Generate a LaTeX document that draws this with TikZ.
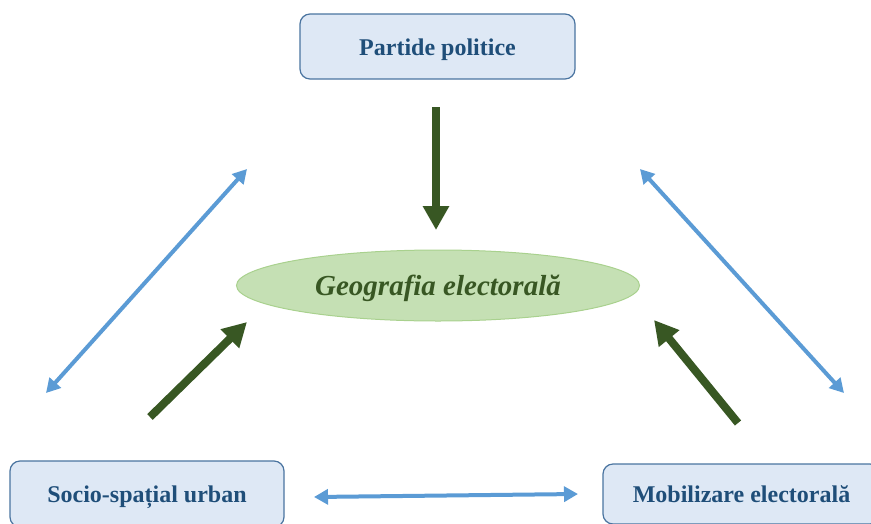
\documentclass[tikz,border=0pt]{standalone}
\usepackage{fontspec}
\setmainfont{Liberation Serif}
\usetikzlibrary{arrows.meta,shapes.geometric}
\definecolor{boxfill}{HTML}{DEE8F5}
\definecolor{boxline}{HTML}{4A74A0}
\definecolor{boxtext}{HTML}{1F4E79}
\definecolor{ellfill}{HTML}{C5E0B4}
\definecolor{ellline}{HTML}{A9D18E}
\definecolor{dgreen}{HTML}{385723}
\definecolor{lblue}{HTML}{5B9BD5}
\tikzset{
  box/.style={draw=boxline, line width=1.2pt, fill=boxfill, rounded corners=10pt,
    text=boxtext, font=\fontsize{24}{28}\selectfont\bfseries, inner sep=0pt,
    text height=20pt, text depth=3pt},
  ell/.style={ellipse, draw=ellline, line width=1pt, fill=ellfill, inner sep=0pt,
    text=dgreen, font=\fontsize{29}{34}\selectfont\bfseries\itshape,
    text height=22pt, text depth=3pt},
  garrow/.style={draw=dgreen, line width=8pt, -{Triangle[width=25pt,length=24pt]}},
  barrow/.style={draw=lblue, line width=4pt, {Triangle[width=15pt,length=14pt]}-{Triangle[width=15pt,length=14pt]}}
}
\begin{document}
\begin{tikzpicture}[x=1pt,y=-1pt]
\useasboundingbox (0,0) rectangle (871,523);
\clip (0,0) rectangle (871,523);
\node[box, minimum width=275pt, minimum height=65pt] (pp) at (437.5,46.5) {Partide politice};
\node[ell, minimum width=403pt, minimum height=71pt] (ge) at (438,285.5) {Geografia electorală};
\node[box, minimum width=274pt, minimum height=66pt] (su) at (147,494) {Socio-spațial urban};
\node[box, minimum width=277pt, minimum height=60pt] (me) at (741.5,494) {Mobilizare electorală};
% arrow endpoints
\coordinate (g1s) at (436,107);
\coordinate (g1e) at (436,230);
\coordinate (g2s) at (150,417);
\coordinate (g2e) at (247,322);
\coordinate (g3s) at (738,423);
\coordinate (g3e) at (654,320);
\coordinate (b1s) at (46,393);
\coordinate (b1e) at (247,169);
\coordinate (b2s) at (640,169);
\coordinate (b2e) at (844,393);
\coordinate (b3s) at (314,497);
\coordinate (b3e) at (578,494);
\draw[garrow] (g1s) -- (g1e);
\draw[garrow] (g2s) -- (g2e);
\draw[garrow] (g3s) -- (g3e);
\draw[barrow] (b1s) -- (b1e);
\draw[barrow] (b2s) -- (b2e);
\draw[barrow] (b3s) -- (b3e);
\end{tikzpicture}
\end{document}
